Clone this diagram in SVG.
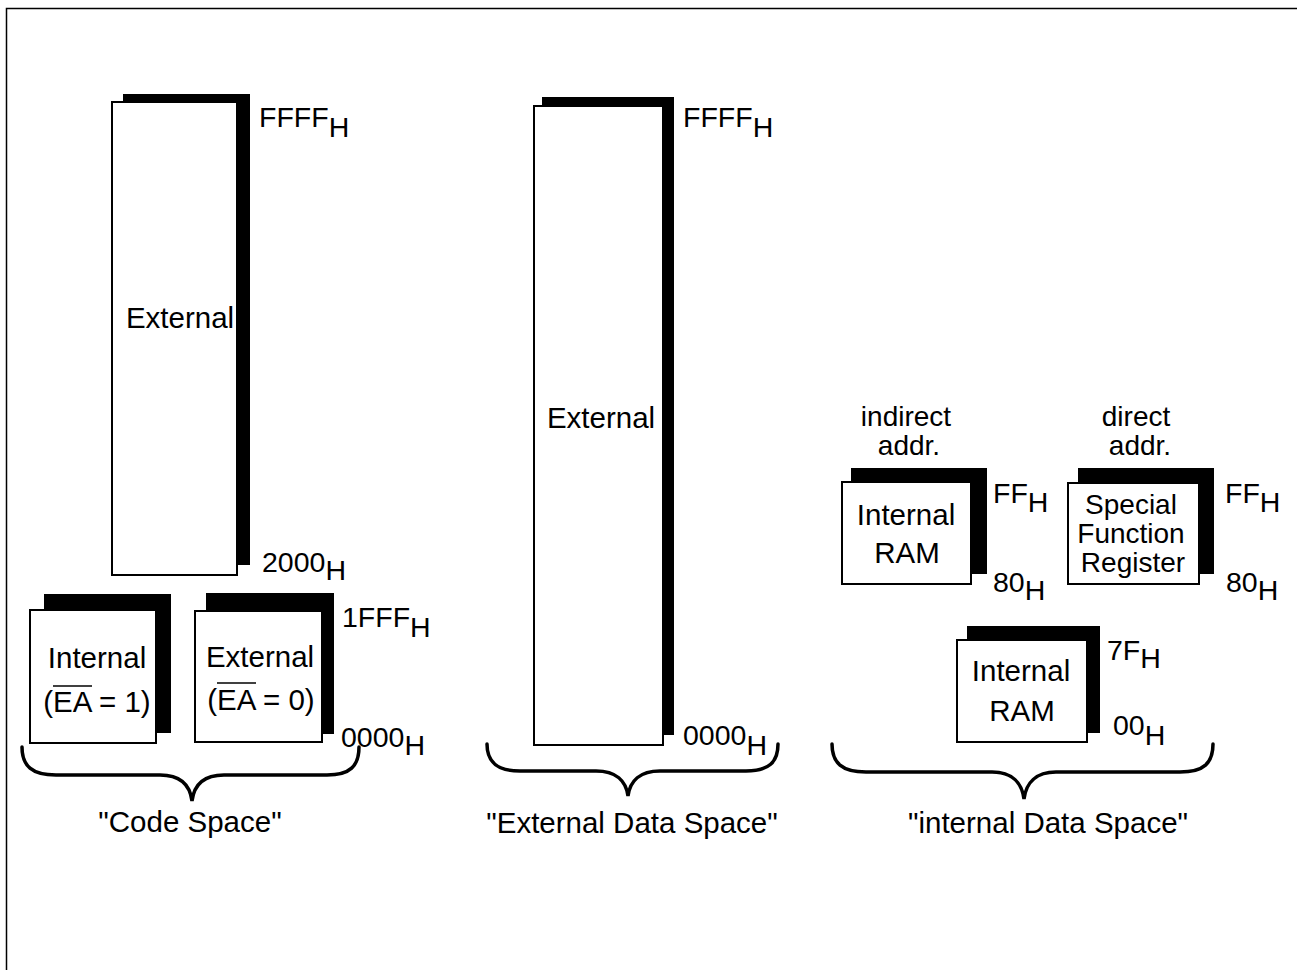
<svg xmlns="http://www.w3.org/2000/svg" width="1297" height="970" viewBox="0 0 1297 970">
<style>
text{font-family:"Liberation Sans",Arial,sans-serif;fill:#000}
.t{font-size:29.5px;text-anchor:middle}
.s{font-size:28px;text-anchor:middle}
.a{font-size:28.5px}
.sh{fill:#000}
.bx{fill:#fff;stroke:#000;stroke-width:2}
.br{fill:none;stroke:#000;stroke-width:3.5;stroke-linecap:round}
.ov{stroke:#000;stroke-width:1.6}
</style>
<rect width="1297" height="970" fill="#fff"/>
<path d="M6.5,970 V8.5 H1297" fill="none" stroke="#000" stroke-width="1.5"/>

<g id="code-external">
<rect class="sh" x="123" y="94" width="127" height="471"/>
<rect class="bx" x="112" y="102" width="125" height="473"/>
<text class="t" x="180" y="328">External</text>
</g>
<g id="code-internal">
<rect class="sh" x="44" y="594" width="127" height="139"/>
<rect class="bx" x="30" y="610" width="126" height="133"/>
<text class="t" x="97" y="668">Internal</text>
<text class="t" x="97" y="712">(EA = 1)</text>
<line class="ov" x1="53" y1="686" x2="92" y2="686"/>
</g>
<g id="code-external-small">
<rect class="sh" x="206" y="593" width="128" height="141"/>
<rect class="bx" x="195" y="611" width="127" height="131"/>
<text class="t" x="260" y="667">External</text>
<text class="t" x="261" y="710">(EA = 0)</text>
<line class="ov" x1="217" y1="683" x2="256" y2="683"/>
</g>
<g id="code-labels">
<text class="a" x="259" y="127">FFFF<tspan dy="10">H</tspan></text>
<text class="a" x="262" y="572">2000<tspan dy="8">H</tspan></text>
<text class="a" x="342" y="627">1FFF<tspan dy="10">H</tspan></text>
<text class="a" x="341" y="747">0000<tspan dy="8">H</tspan></text>
</g>

<g id="data-external">
<rect class="sh" x="542" y="97" width="132" height="638"/>
<rect class="bx" x="534" y="106" width="129" height="639"/>
<text class="t" x="601" y="428">External</text>
<text class="a" x="683" y="127">FFFF<tspan dy="10">H</tspan></text>
<text class="a" x="683" y="745">0000<tspan dy="10">H</tspan></text>
</g>

<g id="internal-ram-indirect">
<text class="s" x="906" y="426">indirect</text>
<text class="s" x="909" y="455">addr.</text>
<rect class="sh" x="851" y="468" width="136" height="106"/>
<rect class="bx" x="842" y="482" width="129" height="102"/>
<text class="t" x="906" y="525">Internal</text>
<text class="t" x="907" y="563">RAM</text>
<text class="a" x="993" y="503">FF<tspan dy="9">H</tspan></text>
<text class="a" x="993" y="592">80<tspan dy="8">H</tspan></text>
</g>
<g id="sfr">
<text class="s" x="1136" y="426">direct</text>
<text class="s" x="1140" y="455">addr.</text>
<rect class="sh" x="1078" y="468" width="136" height="106"/>
<rect class="bx" x="1068" y="483" width="131" height="101"/>
<text class="s" x="1131" y="514">Special</text>
<text class="s" x="1131" y="543">Function</text>
<text class="s" x="1133" y="572">Register</text>
<text class="a" x="1225" y="503">FF<tspan dy="9">H</tspan></text>
<text class="a" x="1226" y="592">80<tspan dy="8">H</tspan></text>
</g>
<g id="internal-ram-low">
<rect class="sh" x="967" y="626" width="133" height="107"/>
<rect class="bx" x="957" y="640" width="130" height="102"/>
<text class="t" x="1021" y="681">Internal</text>
<text class="t" x="1022" y="721">RAM</text>
<text class="a" x="1107" y="660">7F<tspan dy="8">H</tspan></text>
<text class="a" x="1113" y="735">00<tspan dy="10">H</tspan></text>
</g>

<g id="connectors">
<path class="br" d="M22,747 C22,766 32,775 56,775 H160 C180,775 190,785 192,801 C194,785 204,775 224,775 H327 C350,775 359,766 359,747"/>
<path class="br" d="M487,744 C487,762 497,771 520,771 H596 C616,771 626,781 628,796 C630,781 640,771 660,771 H746 C769,771 778,762 778,744"/>
<path class="br" d="M832,744 C832,763 842,772 866,772 H992 C1012,772 1022,783 1024,799 C1026,783 1036,772 1056,772 H1180 C1204,772 1213,763 1213,744"/>
</g>

<g id="space-labels">
<text class="t" x="190" y="832">"Code Space"</text>
<text class="t" x="632" y="833">"External Data Space"</text>
<text class="t" x="1048" y="833">"internal Data Space"</text>
</g>
</svg>
